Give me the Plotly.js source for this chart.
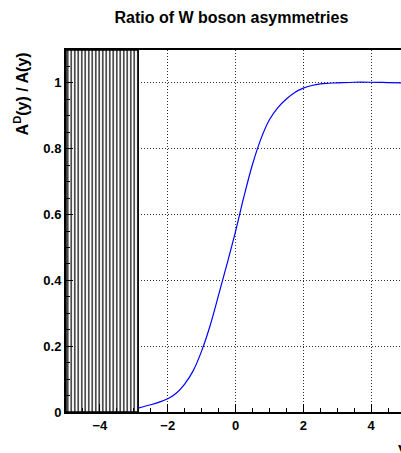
<!DOCTYPE html>
<html>
<head>
<meta charset="utf-8">
<script src="https://cdn.plot.ly/plotly-3.0.1.min.js"></script>
<style>
html,body{margin:0;padding:0;overflow:hidden;background:#fff;}
#chart{width:410px;height:453px;}
</style>
</head>
<body>
<div id="chart"></div>
<script>
// Ratio curve A^D(y)/A(y)
const rapidity = [-2.87, -2.5, -2.25, -2, -1.75, -1.5, -1.25, -1, -0.75, -0.5, -0.25, 0, 0.25, 0.5, 0.75, 1, 1.25, 1.5, 1.75, 2, 2.25, 2.5, 2.75, 3, 3.5, 4, 4.5, 5];
const ratio    = [0.012, 0.022, 0.03, 0.04, 0.057, 0.085, 0.125, 0.185, 0.262, 0.355, 0.45, 0.548, 0.655, 0.752, 0.83, 0.888, 0.925, 0.951, 0.971, 0.984, 0.992, 0.997, 0.999, 1.0, 1.002, 1.002, 1.001, 1.0];
// Excluded (hatched) rapidity band
const excludedX = [-5, -2.87];
const yRange = [0, 1.1];
const xRange = [-5, 5];
const chartTitle = "Ratio of W boson asymmetries";
const yTitle = "A<sup>D</sup>(y) / A(y)";
const xTitle = "y";

const font = "Liberation Sans, Arial, Helvetica, sans-serif";

const hatch = {
  x: [excludedX[0], excludedX[1], excludedX[1], excludedX[0], excludedX[0]],
  y: [yRange[0], yRange[0], yRange[1], yRange[1], yRange[0]],
  mode: "lines",
  fill: "toself",
  fillcolor: "rgba(0,0,0,0)",
  fillpattern: {shape: "|", size: 3.5, solidity: 0.35, fgcolor: "#000", bgcolor: "#fff"},
  line: {color: "#000", width: 1.5},
  hoverinfo: "skip",
  showlegend: false
};

const curve = {
  x: rapidity,
  y: ratio,
  mode: "lines",
  line: {color: "#0000ff", width: 1.2, shape: "spline", smoothing: 1},
  showlegend: false
};

const axisCommon = {
  showline: true,
  linecolor: "#000",
  linewidth: 2,
  mirror: true,
  ticks: "inside",
  tickcolor: "#000",
  tickwidth: 1,
  showgrid: true,
  gridcolor: "#333",
  griddash: "1px,2px",
  gridwidth: 1,
  zeroline: false,
  tickfont: {family: font, size: 13, color: "#000", weight: "bold"},
  layer: "above traces"
};

const layout = {
  width: 410,
  height: 453,
  margin: {l: 66, r: 5, t: 50, b: 41},
  paper_bgcolor: "#fff",
  plot_bgcolor: "#fff",
  title: {
    text: chartTitle,
    font: {family: font, size: 16, color: "#000", weight: "bold"},
    xref: "paper", x: 0.488, xanchor: "center",
    yref: "container", y: 0.962, yanchor: "middle"
  },
  xaxis: Object.assign({}, axisCommon, {
    range: xRange,
    dtick: 2,
    tick0: 0,
    ticklen: 8,
    minor: {dtick: 0.5, ticks: "inside", ticklen: 4, tickcolor: "#000", showgrid: false}
  }),
  yaxis: Object.assign({}, axisCommon, {
    range: yRange,
    dtick: 0.2,
    tick0: 0,
    ticklen: 7,
    minor: {dtick: 0.05, ticks: "inside", ticklen: 4, tickcolor: "#000", showgrid: false}
  }),
  annotations: [
    {
      text: yTitle, textangle: -90,
      xref: "paper", x: -0.133, xanchor: "center",
      yref: "paper", y: 1.0, yanchor: "top",
      showarrow: false,
      font: {family: font, size: 16, color: "#000", weight: "bold"}
    },
    {
      text: xTitle,
      xref: "paper", x: 0.973, xanchor: "left",
      yref: "paper", y: -0.072, yanchor: "top",
      showarrow: false,
      font: {family: font, size: 16, color: "#000", weight: "bold"}
    }
  ],
  showlegend: false
};

Plotly.newPlot("chart", [hatch, curve], layout, {displayModeBar: false, staticPlot: true});
</script>
</body>
</html>
